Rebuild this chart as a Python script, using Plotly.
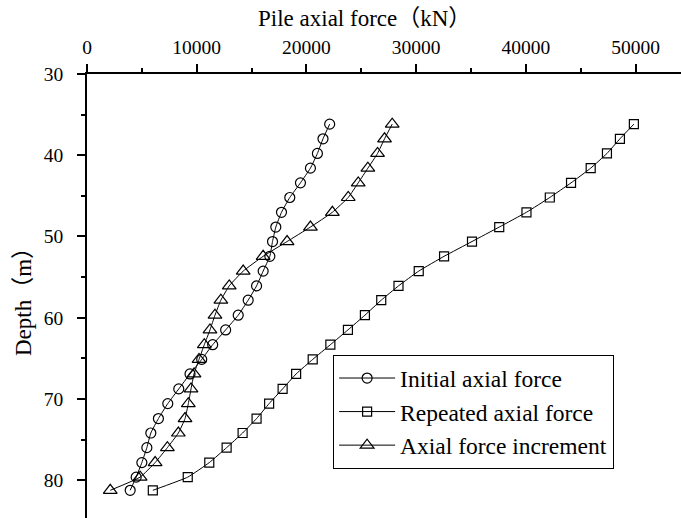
import plotly.graph_objects as go

# Depth of measurement points (m)
depth = [36.17, 37.98, 39.78, 41.59, 43.40, 45.20, 47.02, 48.84, 50.62, 52.44,
         54.26, 56.08, 57.84, 59.69, 61.50, 63.32, 65.13, 66.92, 68.76, 70.57,
         72.41, 74.19, 75.99, 77.83, 79.62, 81.24]

# Pile axial force (kN)
initial_force = [22118, 21509, 21000, 20364, 19455, 18482, 17727, 17209, 16909, 16664,
                 16055, 15455, 14691, 13782, 12636, 11455, 10455, 9391, 8364, 7364,
                 6509, 5818, 5455, 5000, 4482, 3936]
repeated_force = [49845, 48573, 47391, 45909, 44118, 42182, 40055, 37573, 35091, 32545,
                  30236, 28391, 26818, 25330, 23782, 22182, 20573, 19060, 17830, 16600,
                  15455, 14182, 12727, 11145, 9182, 5999]
increment_force = [27818, 27118, 26482, 25600, 24720, 23810, 22364, 20364, 18236, 16055,
                   14236, 12964, 12200, 11664, 11209, 10691, 10209, 9755, 9482, 9236,
                   8936, 8327, 7327, 6209, 4845, 2118]

series_names = ["Initial axial force", "Repeated axial force", "Axial force increment"]
x_ticks = [0, 10000, 20000, 30000, 40000, 50000]
y_ticks = [30, 40, 50, 60, 70, 80]

FONT = "Liberation Serif, Times New Roman, Noto Sans CJK SC, serif"

fig = go.Figure()
specs = [
    (initial_force, "circle-open", 10),
    (repeated_force, "square-open", 9),
    (increment_force, "triangle-up-open", 12),
]
for name, (vals, sym, size) in zip(series_names, specs):
    fig.add_trace(go.Scatter(
        x=vals, y=depth, name=name, mode="lines+markers",
        line=dict(color="black", width=1, shape="spline", smoothing=0.4),
        marker=dict(symbol=sym, size=size, color="black", line=dict(color="black", width=1.2)),
    ))

fig.update_layout(
    width=681, height=518,
    margin=dict(l=87, r=0, t=74, b=0),
    paper_bgcolor="white", plot_bgcolor="white",
    font=dict(family=FONT, color="black", size=19),
    showlegend=True,
    legend=dict(
        x=0.414, y=0.367, xanchor="left", yanchor="top",
        bordercolor="black", borderwidth=1.2, bgcolor="white",
        font=dict(family=FONT, size=23.5, color="black"),
        tracegroupgap=0, itemsizing="trace", itemwidth=56,
    ),
    xaxis=dict(
        side="top", range=[0, 54140], tickvals=x_ticks,
        ticktext=[str(v) for v in x_ticks],
        showline=True, linecolor="black", linewidth=1.5,
        ticks="outside", ticklen=8, tickwidth=1.5, tickcolor="black",
        minor=dict(dtick=5000, ticks="outside", ticklen=4, tickwidth=1.5, tickcolor="black"),
        showgrid=False, zeroline=False, ticklabelstandoff=2,
        tickfont=dict(family=FONT, size=19.5),
    ),
    yaxis=dict(
        range=[84.65, 30], tickvals=y_ticks,
        showline=True, linecolor="black", linewidth=1.5,
        ticks="outside", ticklen=8, tickwidth=1.5, tickcolor="black",
        minor=dict(dtick=5, ticks="outside", ticklen=4, tickwidth=1.5, tickcolor="black"),
        showgrid=False, zeroline=False, ticklabelstandoff=10,
        tickfont=dict(family=FONT, size=19.5),
        title=dict(text="Depth（m）", font=dict(family=FONT, size=23), standoff=6),
    ),
    annotations=[dict(
        text="Pile axial force（kN）", xref="paper", yref="paper",
        x=0.468, y=1.126, xanchor="center", yanchor="middle", showarrow=False,
        font=dict(family=FONT, size=23, color="black"),
    )],
)

fig.write_html("out.html")
